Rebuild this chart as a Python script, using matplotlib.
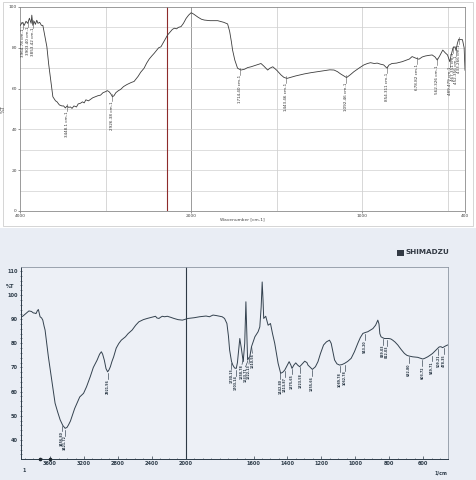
import numpy as np
import matplotlib
matplotlib.use('Agg')
import matplotlib.pyplot as plt
from matplotlib.patches import Rectangle

# ---------------- data ----------------
top_wn = [3995, 3975, 3950, 3930, 3910, 3890, 3870, 3862, 3850, 3835, 3820, 3804, 3790, 3770, 3750,
          3733, 3710, 3686, 3665, 3647, 3630, 3616, 3600, 3585, 3569, 3540, 3510, 3490, 3470, 3450,
          3432, 3410, 3392, 3370, 3340, 3320, 3294, 3270, 3250, 3230, 3200, 3176, 3150, 3120, 3090,
          3059, 3030, 3000, 2980, 2960, 2940, 2920, 2902, 2880, 2850, 2824, 2790, 2750, 2700, 2667,
          2620, 2590, 2550, 2520, 2490, 2460, 2432, 2400, 2380, 2353, 2320, 2300, 2275, 2250, 2220,
          2196, 2170, 2150, 2118, 2090, 2059, 2030, 2000, 1985, 1960, 1940, 1923, 1890, 1845, 1810,
          1787, 1775, 1765, 1758, 1745, 1729, 1709, 1688, 1670, 1650, 1620, 1592, 1575, 1553, 1540,
          1523, 1500, 1475, 1458, 1440, 1420, 1390, 1360, 1339, 1300, 1260, 1223, 1190, 1165, 1145,
          1127, 1110, 1092, 1070, 1049, 1020, 991, 970, 952, 930, 913, 895, 875, 862, 855, 845, 827,
          800, 767, 740, 725, 709, 690, 669, 650, 631, 610, 592, 575, 562, 548, 530, 515, 502, 489,
          482, 470, 458, 452, 445, 437, 425, 415, 405, 400]
top_T = [91, 92.5, 91, 93, 92, 94.5, 92, 96, 91, 93, 91.5, 93.5, 92, 92.5, 91,
         91, 86, 80.5, 72, 66, 60, 56, 55, 54, 53.6, 52, 51.5, 51.5, 50.5, 51.5,
         50.8, 51, 50.3, 51.5, 51, 52.5, 52.8, 53.5, 53, 54.5, 54, 54.7, 55.5, 56, 56.5,
         56.8, 58, 58.5, 59, 58.5, 57.5, 56, 56.5, 58, 59, 59.6, 61, 62, 63, 63.5,
         66, 68, 70, 72.5, 74.5, 76, 77.3, 79, 80, 80.5, 83, 84.5, 86.3, 87.5, 89,
         89.6, 89.3, 90, 90.4, 92, 94.4, 96, 97.2, 96.5, 95, 94, 93.6, 93.3, 93.3, 92.5,
         91.7, 88, 83, 78.9, 74, 70, 69.1, 69.5, 70.3, 70.7, 71.5, 72.3, 71, 69.1, 70,
         70.7, 69, 66.7, 65.5, 65, 65.5, 66.2, 66.8, 67.2, 67.8, 68.3, 68.8, 69.2, 69.1, 68.3,
         67.2, 66.3, 65.4, 66.8, 68.3, 70, 71.6, 72.3, 72.7, 72.3, 72.5, 72, 71.6, 70.5, 70, 71.5, 72.3,
         72.5, 73.2, 74, 74.5, 75.7, 75, 74.4, 75.5, 76, 76.3, 76.5, 75.5, 74, 76, 78.9, 77.5, 76.5, 73.2,
         76, 80, 80.5, 78.6, 82, 84.2, 84, 84, 80, 69]
top_peak_wn = [3964.78, 3903.40, 3853.42, 3448.1, 2926.38, 1714.40, 1443.46, 1092.46, 854.311,
               678.82, 562.326, 489.479, 467.351, 452.356, 433.266]
top_peak_txt = ['3964.78 cm-1', '3903.40 cm-1', '3853.42 cm-1', '3448.1 cm-1', '2926.38 cm-1',
                '1714.40 cm-1', '1443.46 cm-1', '1092.46 cm-1', '854.311 cm-1', '678.82 cm-1',
                '562.326 cm-1', '489.479 cm-1', '467.351 cm-1', '452.356 cm-1', '433.266 cm-1']
top_marker_wn = 2280

bot_wn = [3940, 3923, 3880, 3850, 3820, 3798, 3780, 3766, 3750, 3738, 3725, 3718, 3700, 3686, 3670,
          3659, 3640, 3620, 3600, 3580, 3560, 3541, 3510, 3481, 3450, 3422, 3400, 3383, 3360, 3343,
          3310, 3283, 3250, 3205, 3170, 3126, 3090, 3046, 3016, 2995, 2980, 2960, 2940, 2921, 2905,
          2889, 2870, 2850, 2820, 2790, 2760, 2711, 2680, 2632, 2590, 2553, 2500, 2454, 2400, 2356,
          2340, 2316, 2296, 2276, 2250, 2217, 2180, 2139, 2090, 2039, 2010, 1986, 1950, 1918, 1880,
          1860, 1839, 1820, 1800, 1785, 1771, 1757, 1748, 1741, 1730, 1722, 1712, 1702, 1695, 1688,
          1681, 1672, 1661, 1652, 1645, 1640, 1635, 1628, 1622, 1612, 1592, 1573, 1563, 1555, 1549,
          1544, 1540, 1528, 1514, 1500, 1488, 1475, 1455, 1440, 1428, 1416, 1400, 1390, 1380, 1373,
          1362, 1351, 1340, 1328, 1312, 1298, 1285, 1279, 1265, 1253, 1235, 1220, 1205, 1187, 1170,
          1152, 1142, 1136, 1129, 1122, 1108, 1093, 1078, 1063, 1045, 1024, 1005, 985, 970, 955,
          940, 926, 910, 896, 880, 867, 860, 855, 848, 838, 828, 815, 802, 790, 779,
          765, 749, 730, 710, 695, 681, 660, 632, 615, 602, 590, 573, 560, 544, 530,
          514, 505, 495, 485, 475, 465, 455]
bot_T = [91.0, 91.2, 92.5, 93.4, 93.2, 92.6, 92.5, 92.3, 93.5, 94, 92, 91, 90.5, 89.6, 87,
         85.5, 80, 74.4, 69.5, 64.8, 60, 55.2, 51.5, 48.3, 46, 44.8, 45.2, 46.2, 47.8, 49.6,
         53, 55.2, 57.8, 59.3, 62, 66.2, 70, 73, 75.5, 76.5, 75.5, 73, 69.5, 68.2, 69,
         70.3, 72.5, 74.4, 78, 79.9, 81.3, 82.7, 84, 85.5, 87.5, 88.9, 89.8, 90.3, 90.8, 91.2,
         90.5, 90.3, 90.8, 91.2, 91, 91.2, 90.8, 90.3, 89.8, 89.6, 89.9, 90.3, 90.6, 91, 91.3,
         91, 91.7, 91.5, 91.2, 91.0, 90.3, 88.2, 83, 77.2, 72.5, 71, 69.8, 69.6, 72, 77,
         82, 78, 72.4, 80, 97.2, 85, 73.1, 74, 74.4, 78.6, 82.7, 84.8, 86.8, 95, 105.4,
         98, 90.3, 91.2, 87.5, 88.2, 84, 80, 71.7, 67.6, 68, 68.9, 71, 72.4, 71, 69.6,
         71, 71.9, 71, 70.3, 71.5, 72.6, 72, 71, 70, 69.2, 70.3, 72.4, 75.8, 79.3, 80.6,
         81.3, 80, 77.9, 75.5, 73.1, 71.5, 71, 71.2, 71.7, 72.5, 73.8, 76.5, 80, 82.4, 84.1,
         84.5, 84.8, 85.5, 86.1, 87.5, 89.6, 88, 84, 82.7, 82.3, 82, 82, 82, 81.8, 81.3,
         80.5, 79.3, 77.5, 75.8, 75, 74.7, 74.4, 74.2, 73.8, 73.5, 73.8, 74.4, 75, 75.8, 76.8,
         77.9, 78.5, 78.6, 78.2, 78.6, 79, 79.3]
bot_peak_wn = [3456.80, 3421.72, 2921.96, 1730.15, 1703.14, 1658.78, 1633.71, 1622.13, 1610.56,
               1442.80, 1413.87, 1375.65, 1323.58, 1255.66, 1089.78, 1062.78, 943.20, 839.03,
               812.03, 682.80, 603.72, 549.71, 509.21, 478.35]
bot_peak_txt = ['%.2f' % v for v in bot_peak_wn]
bot_axis_marks = [3720, 3600]

top_xticks = [4000, 2000, 1000, 400]
top_xgrid = [3000, 1500, 1000, 500]
top_yticks = [0, 20, 40, 60, 80, 100]
bot_xticks = [3600, 3200, 2800, 2400, 2000, 1600, 1400, 1200, 1000, 800, 600]
bot_yticks = [40, 50, 60, 70, 80, 90, 100, 110]


def fwd(x):
    x = np.asarray(x, float)
    return np.where(x > 2000, 2000 + (x - 2000) / 2.0, x)


def inv(y):
    y = np.asarray(y, float)
    return np.where(y > 2000, 2000 + (y - 2000) * 2.0, y)


W, H = 477, 480
fig = plt.figure(figsize=(W / 100, H / 100), dpi=100)
fig.patch.set_facecolor('white')


def fx(px):
    return px / W


def fy(py):
    return 1 - py / H


# backgrounds
fig.patches.append(Rectangle((0, 0), 1, fy(228), transform=fig.transFigure,
                             facecolor='#e9edf4', edgecolor='none', zorder=-10))
fig.patches.append(Rectangle((fx(3), fy(226)), fx(470), 224 / H, transform=fig.transFigure,
                             fill=False, edgecolor='#cfcfcf', lw=0.6, zorder=-5))

# ---------------- top panel ----------------
ax1 = fig.add_axes([fx(20), fy(211), fx(445), 204 / H])
ax1.set_xscale('function', functions=(fwd, inv))
ax1.set_xlim(4000, 400)
ax1.set_ylim(0, 100)
ax1.set_facecolor('white')
for v in top_xgrid:
    ax1.axvline(v, color='#c8c8c8', lw=0.5, zorder=0)
ax1.axvline(2000, color='#8a8a8a', lw=0.6, zorder=0)
for v in range(10, 100, 10):
    ax1.axhline(v, color='#d0d0d0', lw=0.5, zorder=0)
ax1.axvline(top_marker_wn, color='#8e2b2b', lw=0.8, zorder=1)
ax1.plot(top_wn, top_T, color='#3c3c3c', lw=0.6, zorder=3)
ax1.set_xticks(top_xticks)
ax1.set_xticklabels([str(v) for v in top_xticks])
ax1.set_yticks(top_yticks)
ax1.set_yticklabels([str(v) for v in top_yticks])
ax1.tick_params(labelsize=3.2, length=1.2, width=0.4, colors='#444444', pad=1)
for s in ax1.spines.values():
    s.set_color('#8a8a8a')
    s.set_linewidth(0.6)
ax1.set_xlabel('Wavenumber [cm-1]', fontsize=3.2, color='#444444', labelpad=2)
ax1.xaxis.set_label_coords(0.5, -0.03)
ax1.set_ylabel('%T', fontsize=3.6, color='#444444', labelpad=2)
top_arr_wn = np.array(top_wn[::-1], float)
top_arr_T = np.array(top_T[::-1], float)
for wn, txt in zip(top_peak_wn, top_peak_txt):
    yc = np.interp(wn, top_arr_wn, top_arr_T)
    ax1.plot([wn, wn], [yc + 1, yc - 2.5], color='#555555', lw=0.4, zorder=4)
    ax1.text(wn, yc - 2.5, txt, rotation=90, ha='center', va='top', fontsize=3.0,
             color='#333333', zorder=5)

# ---------------- bottom panel ----------------
ax2 = fig.add_axes([fx(21), fy(459), fx(427), 192 / H])
ax2.set_xscale('function', functions=(fwd, inv))
ax2.set_xlim(3943, 453)
ax2.set_ylim(32.1, 111.6)
ax2.set_facecolor('#edf0f6')
ax2.axvline(2000, color='#2f3a46', lw=0.8, zorder=1)
ax2.plot(bot_wn, bot_T, color='#34424f', lw=0.7, zorder=3)
ax2.set_xticks(bot_xticks)
ax2.set_xticklabels([str(v) for v in bot_xticks])
ax2.set_xticks(list(range(3900, 2000, -100)) + list(range(1950, 450, -50)), minor=True)
ax2.set_yticks(bot_yticks)
ax2.set_yticklabels([str(v) for v in bot_yticks])
ax2.set_yticks(list(range(34, 112, 2)), minor=True)
ax2.tick_params(axis='both', which='major', labelsize=3.6, length=2.0, width=0.5,
                colors='#2d3b48', pad=1.5)
ax2.tick_params(axis='both', which='minor', length=1.0, width=0.4, colors='#2d3b48')
ax2.tick_params(axis='x', which='both', direction='in')
ax2.tick_params(axis='y', which='both', direction='inout')
for lab in ax2.get_xticklabels() + ax2.get_yticklabels():
    lab.set_fontweight('bold')
ax2.spines['left'].set_color('#2d3b48')
ax2.spines['bottom'].set_color('#2d3b48')
ax2.spines['left'].set_linewidth(0.7)
ax2.spines['bottom'].set_linewidth(0.7)
ax2.spines['top'].set_color('#8d96a2')
ax2.spines['right'].set_color('#8d96a2')
ax2.spines['top'].set_linewidth(0.6)
ax2.spines['right'].set_linewidth(0.6)
ax2.plot(bot_axis_marks, [32.1] * len(bot_axis_marks), ls='none', marker='o', ms=1.6,
         color='#1f2830', clip_on=False, zorder=6)

bot_arr_wn = np.array(bot_wn[::-1], float)
bot_arr_T = np.array(bot_T[::-1], float)
# text positions for crowded labels are spread sideways so they sit next to each other
spread = {1658.78: 1668, 1633.71: 1647, 1622.13: 1627, 1610.56: 1607}
for wn, txt in zip(bot_peak_wn, bot_peak_txt):
    yc = np.interp(wn, bot_arr_wn, bot_arr_T)
    xt = spread.get(wn, wn)
    ax2.plot([wn, xt], [yc - 0.6, yc - 3.0], color='#2d3b48', lw=0.45, zorder=4)
    ax2.text(xt, yc - 3.0, txt, rotation=90, ha='center', va='top', fontsize=2.3,
             fontweight='bold', color='#2d3b48', zorder=5)

fig.text(fx(10), fy(287), '%T', fontsize=3.6, fontweight='bold', color='#2d3b48',
         ha='center', va='center')
fig.text(fx(441), fy(473), '1/cm', fontsize=3.4, fontweight='bold', color='#2d3b48',
         ha='center', va='center')
fig.text(fx(24), fy(470), '1', fontsize=3.4, fontweight='bold', color='#2d3b48',
         ha='center', va='center')
fig.patches.append(Rectangle((fx(397), fy(255.5)), fx(7), 6 / H, transform=fig.transFigure,
                             facecolor='#333a44', edgecolor='none'))
fig.text(fx(406), fy(252.5), 'SHIMADZU', fontsize=5.2, fontweight='bold', color='#333a44',
         ha='left', va='center')

fig.savefig('out.png', dpi=100, facecolor=fig.get_facecolor())
